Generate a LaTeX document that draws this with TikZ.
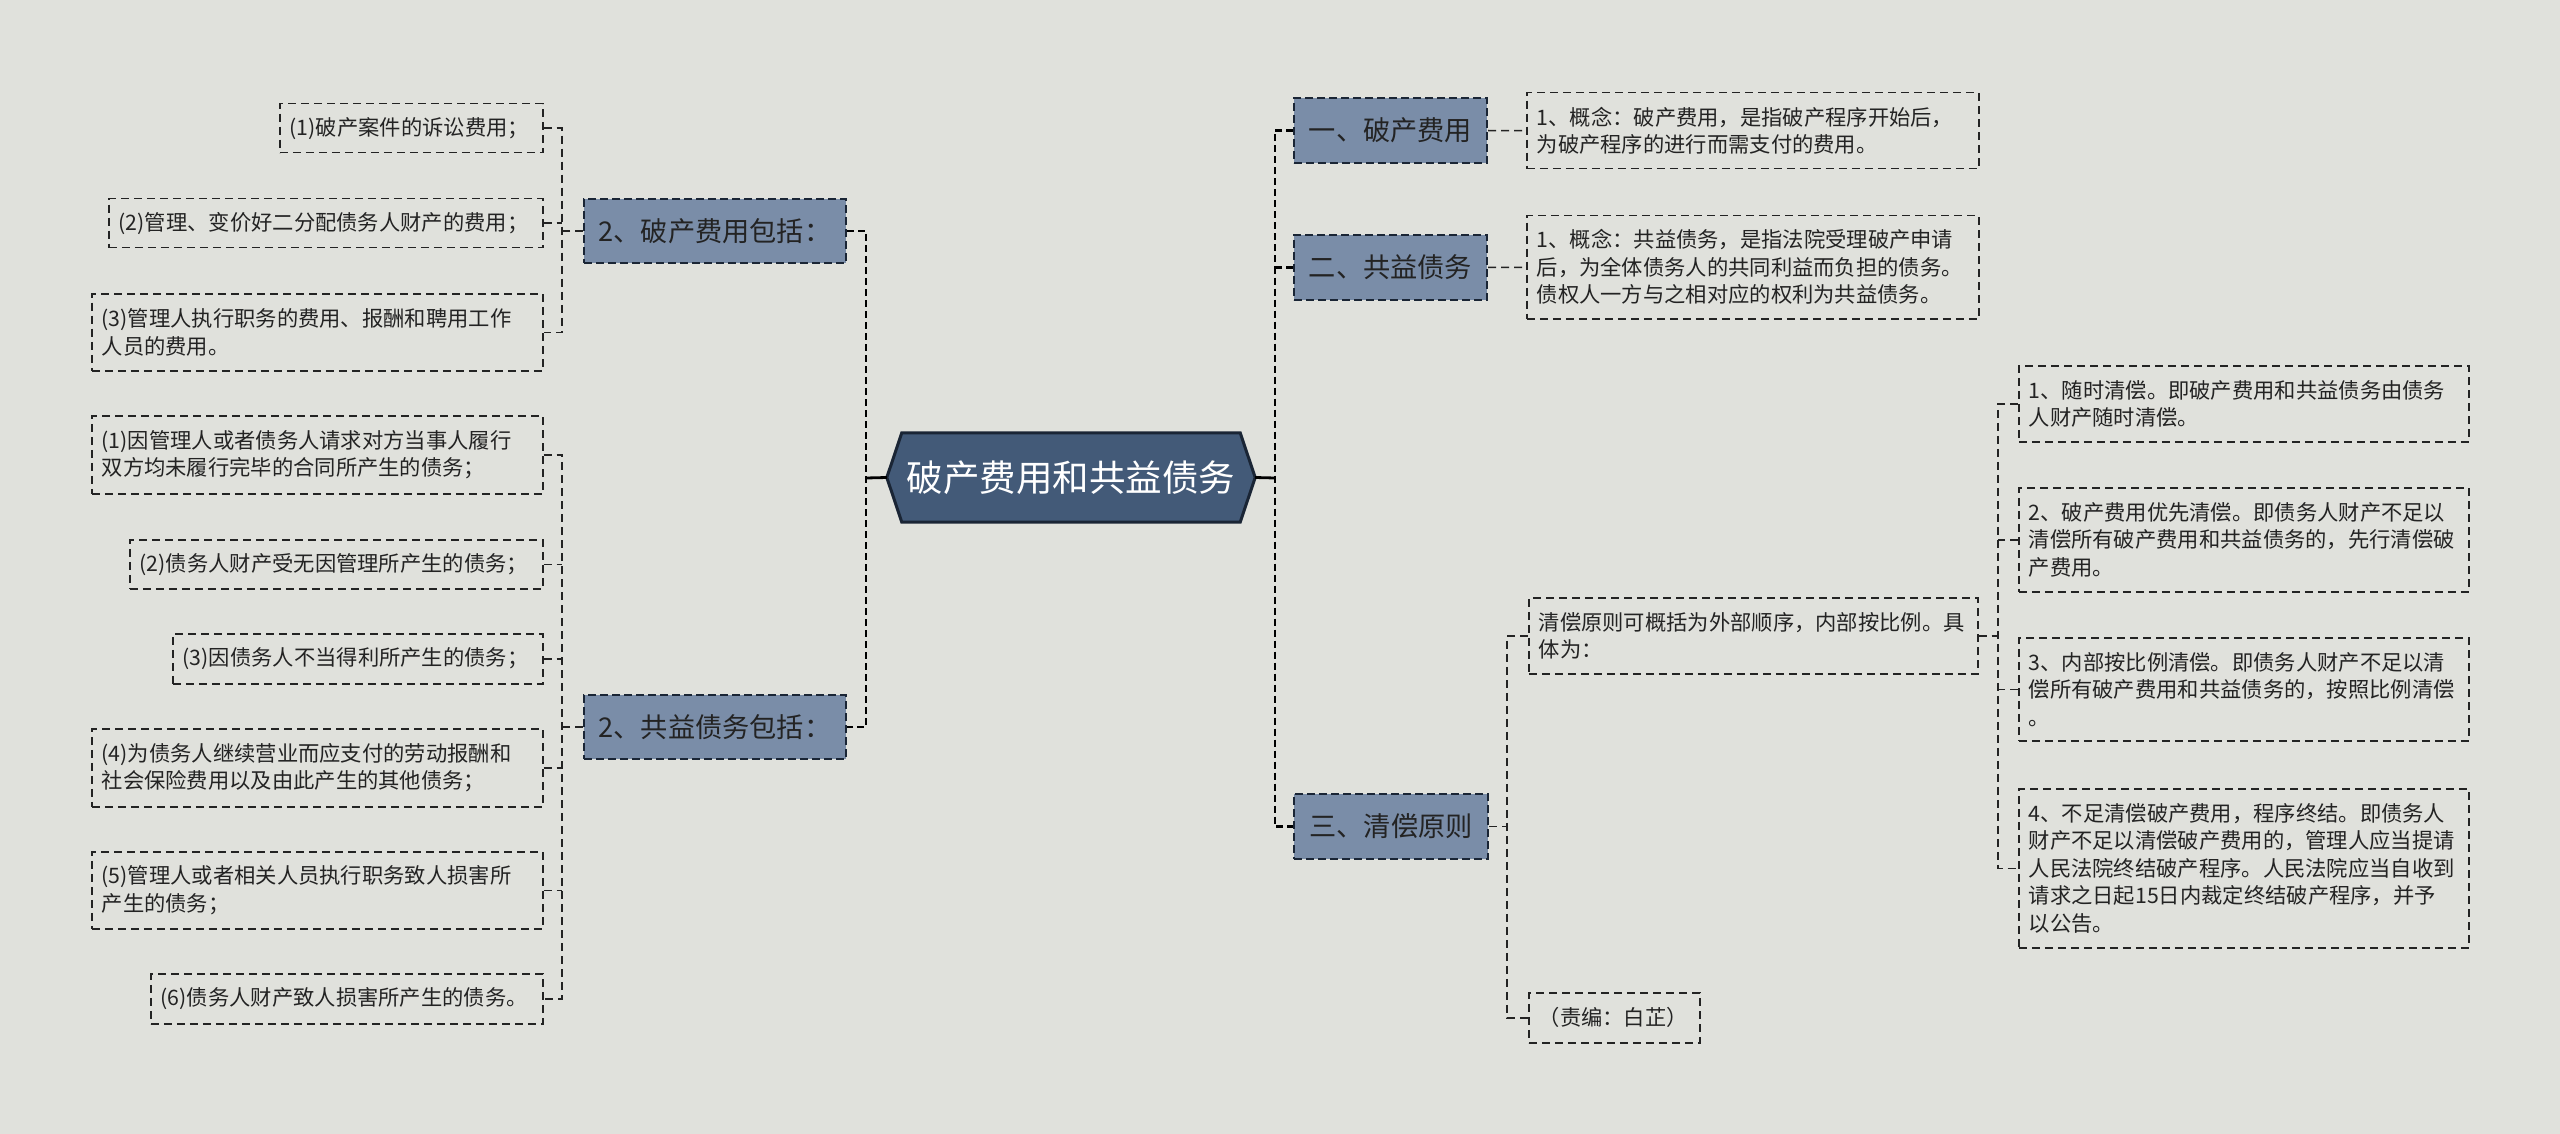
\documentclass[tikz,border=0pt]{standalone}
\usepackage{fontspec}
\setmainfont{Noto Sans CJK SC}
\pgfdeclarelayer{canvas}
\pgfdeclarelayer{shapes}
\pgfsetlayers{canvas,shapes,main}
\definecolor{bgc}{RGB}{224,225,220}
\definecolor{branchfill}{RGB}{122,141,168}
\definecolor{centerfill}{RGB}{67,90,120}
\definecolor{centerline}{RGB}{26,37,53}
\definecolor{ink}{RGB}{35,35,35}
\tikzset{
 leaf/.style={draw=ink, line width=1.5pt, dash pattern=on 8pt off 5pt, anchor=north west, align=left, inner xsep=10pt, inner ysep=0pt, font=\fontsize{21.3}{27.5}\selectfont, text=ink},
 branch/.style={draw=centerline, fill=branchfill, line width=2pt, dash pattern=on 8pt off 4pt, anchor=north west, align=center, inner sep=0pt, minimum height=64pt, font=\fontsize{27.2}{30}\selectfont, text=ink},
 link/.style={draw=ink, line width=1.5pt, dash pattern=on 8pt off 5pt},
 mainlink/.style={draw=black, line width=2.8pt, dash pattern=on 7pt off 4pt},
 solidlink/.style={draw=black, line width=2.8pt},
}
\begin{document}
\begin{tikzpicture}[x=1pt,y=-1pt]
\begin{pgfonlayer}{canvas}
\fill[bgc] (0,0) rectangle (2560,1134);
\end{pgfonlayer}
\useasboundingbox (0,0) rectangle (2560,1134);

% centre
\node[font=\fontsize{36.5}{40}\selectfont, text=white, minimum width=338pt, minimum height=89pt, inner sep=0pt] (c) at (1071,477.5) {破产费用和共益债务};
\coordinate (cl) at ([xshift=-15pt]c.west);
\coordinate (cr) at ([xshift=15pt]c.east);
\begin{pgfonlayer}{shapes}
\filldraw[fill=centerfill, draw=centerline, line width=3pt, line join=miter] (c.north west) -- (c.north east) -- (cr) -- (c.south east) -- (c.south west) -- (cl) -- cycle;
\end{pgfonlayer}

% branches
\node[branch, minimum width=262pt] (b1) at (583,198) {2、破产费用包括：};
\node[branch, minimum width=262pt] (b2) at (583,694) {2、共益债务包括：};
\node[branch, minimum width=193pt, minimum height=65pt] (r1) at (1293,97) {一、破产费用};
\node[branch, minimum width=193pt, minimum height=65pt] (r2) at (1293,234) {二、共益债务};
\node[branch, minimum width=194pt, minimum height=65pt] (r3) at (1293,793) {三、清偿原则};

% left leaves
\node[leaf, text width=243pt, minimum height=49pt] (l1) at (279,103) {(1)破产案件的诉讼费用；};
\node[leaf, text width=414pt, minimum height=49pt] (l2) at (108,198) {(2)管理、变价好二分配债务人财产的费用；};
\node[leaf, text width=431pt, minimum height=77pt] (l3) at (91,293) {(3)管理人执行职务的费用、报酬和聘用工作\\人员的费用。};
\node[leaf, text width=431pt, minimum height=78pt] (m1) at (91,415) {(1)因管理人或者债务人请求对方当事人履行\\双方均未履行完毕的合同所产生的债务；};
\node[leaf, text width=393pt, minimum height=49pt] (m2) at (129,539) {(2)债务人财产受无因管理所产生的债务；};
\node[leaf, text width=350pt, minimum height=50pt] (m3) at (172,633) {(3)因债务人不当得利所产生的债务；};
\node[leaf, text width=431pt, minimum height=78pt] (m4) at (91,728) {(4)为债务人继续营业而应支付的劳动报酬和\\社会保险费用以及由此产生的其他债务；};
\node[leaf, text width=431pt, minimum height=77pt] (m5) at (91,851) {(5)管理人或者相关人员执行职务致人损害所\\产生的债务；};
\node[leaf, text width=372pt, minimum height=50pt] (m6) at (150,973) {(6)债务人财产致人损害所产生的债务。};

% right leaves
\node[leaf, text width=432pt, minimum height=76pt] (c1) at (1526,92) {1、概念：破产费用，是指破产程序开始后，\\为破产程序的进行而需支付的费用。};
\node[leaf, text width=432pt, minimum height=103pt] (c2) at (1526,215) {1、概念：共益债务，是指法院受理破产申请\\后，为全体债务人的共同利益而负担的债务。\\债权人一方与之相对应的权利为共益债务。};
\node[leaf, text width=429pt, minimum height=76pt] (q) at (1528,597) {清偿原则可概括为外部顺序，内部按比例。具\\体为：};
\node[leaf, text width=151pt, minimum height=50pt] (e) at (1528,992) {（责编：白芷）};
\node[leaf, text width=430pt, minimum height=76pt] (s1) at (2018,365) {1、随时清偿。即破产费用和共益债务由债务\\人财产随时清偿。};
\node[leaf, text width=430pt, minimum height=104pt] (s2) at (2018,487) {2、破产费用优先清偿。即债务人财产不足以\\清偿所有破产费用和共益债务的，先行清偿破\\产费用。};
\node[leaf, text width=430pt, minimum height=103pt] (s3) at (2018,637) {3、内部按比例清偿。即债务人财产不足以清\\偿所有破产费用和共益债务的，按照比例清偿\\。};
\node[leaf, text width=430pt, minimum height=159pt] (s4) at (2018,788) {4、不足清偿破产费用，程序终结。即债务人\\财产不足以清偿破产费用的，管理人应当提请\\人民法院终结破产程序。人民法院应当自收到\\请求之日起15日内裁定终结破产程序，并予\\以公告。};

% connector columns
\coordinate (vl) at (866,478);
\coordinate (vr) at (1275,478);
\coordinate (v1) at (562,0);
\coordinate (v2) at (1507,0);
\coordinate (v3) at (1998,0);

% main connectors
\draw[solidlink] (cl) -- (vl);
\draw[solidlink] (cr) -- (vr);
\draw[mainlink] (b1.east) -- (b1.east -| vl) -- (b2.east -| vl) -- (b2.east);
\draw[mainlink] (r1.west) -- (r1.west -| vr) -- (r3.west -| vr) -- (r3.west);
\draw[mainlink] (r2.west) -- (r2.west -| vr);

% left groups
\draw[link] (b1.west) -- (b1.west -| v1);
\draw[link] (l1.east) -- (l1.east -| v1) -- (l3.east -| v1) -- (l3.east);
\draw[link] (l2.east) -- (l2.east -| v1);
\draw[link] (b2.west) -- (b2.west -| v1);
\draw[link] (m1.east) -- (m1.east -| v1) -- (m6.east -| v1) -- (m6.east);
\foreach \n in {m2,m3,m4,m5} \draw[link] (\n.east) -- (\n.east -| v1);

% right groups
\draw[link] (r1.east) -- (c1.west);
\draw[link] (r2.east) -- (c2.west);
\draw[link] (r3.east) -- (r3.east -| v2);
\draw[link] (q.west) -- (q.west -| v2) -- (e.west -| v2) -- (e.west);
\draw[link] (q.east) -- (q.east -| v3);
\draw[link] (s1.west) -- (s1.west -| v3) -- (s4.west -| v3) -- (s4.west);
\draw[link] (s2.west) -- (s2.west -| v3);
\draw[link] (s3.west) -- (s3.west -| v3);
\end{tikzpicture}
\end{document}
